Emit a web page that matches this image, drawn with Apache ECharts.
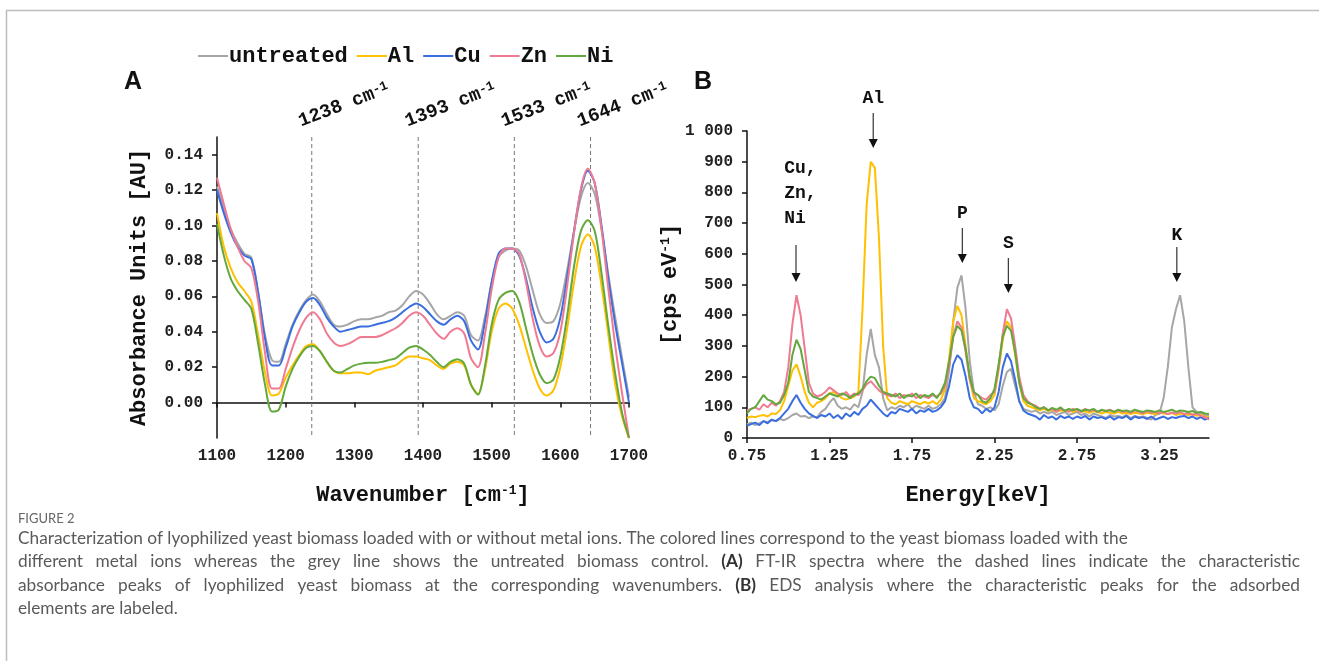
<!DOCTYPE html>
<html>
<head>
<meta charset="utf-8">
<title>Figure 2</title>
<script src="https://cdn.jsdelivr.net/npm/echarts@6/dist/echarts.min.js"></script>
<style>
html, body { margin: 0; padding: 0; background: #fff; }
#chart { width: 1319px; height: 661px; }
</style>
</head>
<body>
<div id="chart"></div>
<script>
const seriesNames = ['untreated', 'Al', 'Cu', 'Zn', 'Ni']
const seriesColors = ['#a6a6a6', '#ffc000', '#3a6ee0', '#f07a92', '#62a83c']

// (A) FT-IR spectra
const wavenumbers = [1100, 1110, 1120, 1130, 1140, 1150, 1160, 1170, 1180, 1190,
  1200, 1210, 1220, 1230, 1240, 1250, 1260, 1270, 1280, 1290,
  1300, 1310, 1320, 1330, 1340, 1350, 1360, 1370, 1380, 1390,
  1400, 1410, 1420, 1430, 1440, 1450, 1460, 1470, 1480, 1490,
  1500, 1510, 1520, 1530, 1540, 1550, 1560, 1570, 1580, 1590,
  1600, 1610, 1620, 1630, 1640, 1650, 1660, 1670, 1680, 1690, 1700]
const irUntreated = [0.122, 0.110, 0.098, 0.090, 0.084, 0.082, 0.062, 0.038, 0.024, 0.023,
  0.033, 0.044, 0.052, 0.058, 0.061, 0.057, 0.050, 0.044, 0.043, 0.044,
  0.046, 0.047, 0.047, 0.048, 0.049, 0.051, 0.052, 0.055, 0.060, 0.063,
  0.061, 0.056, 0.050, 0.047, 0.049, 0.051, 0.049, 0.038, 0.035, 0.048,
  0.068, 0.082, 0.086, 0.087, 0.086, 0.077, 0.063, 0.050, 0.045, 0.046,
  0.056, 0.075, 0.097, 0.116, 0.124, 0.118, 0.098, 0.072, 0.048, 0.025, 0.003]
const irAl = [0.107, 0.088, 0.076, 0.068, 0.063, 0.057, 0.038, 0.017, 0.004, 0.005,
  0.014, 0.021, 0.027, 0.032, 0.033, 0.029, 0.023, 0.018, 0.0165, 0.0165,
  0.017, 0.017, 0.016, 0.018, 0.019, 0.020, 0.021, 0.024, 0.026, 0.026,
  0.025, 0.024, 0.021, 0.019, 0.022, 0.023, 0.021, 0.010, 0.005, 0.018,
  0.040, 0.053, 0.056, 0.053, 0.044, 0.031, 0.018, 0.008, 0.004, 0.007,
  0.020, 0.042, 0.068, 0.088, 0.095, 0.088, 0.066, 0.038, 0.010, -0.008, -0.020]
const irCu = [0.120, 0.107, 0.096, 0.088, 0.083, 0.081, 0.062, 0.036, 0.021, 0.021,
  0.031, 0.043, 0.051, 0.057, 0.059, 0.055, 0.048, 0.043, 0.040, 0.041,
  0.042, 0.043, 0.043, 0.044, 0.045, 0.046, 0.048, 0.051, 0.054, 0.056,
  0.054, 0.050, 0.046, 0.044, 0.047, 0.049, 0.046, 0.035, 0.030, 0.045,
  0.068, 0.084, 0.087, 0.087, 0.083, 0.070, 0.053, 0.040, 0.034, 0.036,
  0.048, 0.071, 0.097, 0.120, 0.131, 0.124, 0.100, 0.070, 0.044, 0.022, 0.000]
const irZn = [0.127, 0.112, 0.098, 0.088, 0.080, 0.076, 0.057, 0.028, 0.008, 0.008,
  0.019, 0.031, 0.041, 0.048, 0.051, 0.047, 0.039, 0.034, 0.032, 0.033,
  0.035, 0.037, 0.037, 0.037, 0.038, 0.040, 0.042, 0.045, 0.049, 0.051,
  0.049, 0.044, 0.039, 0.036, 0.040, 0.042, 0.039, 0.025, 0.020, 0.038,
  0.064, 0.082, 0.087, 0.087, 0.084, 0.068, 0.047, 0.032, 0.026, 0.028,
  0.040, 0.066, 0.096, 0.121, 0.132, 0.124, 0.098, 0.064, 0.032, 0.005, -0.020]
const irNi = [0.101, 0.083, 0.070, 0.063, 0.058, 0.053, 0.033, 0.010, -0.005, -0.004,
  0.009, 0.019, 0.026, 0.031, 0.032, 0.029, 0.023, 0.018, 0.017, 0.019,
  0.021, 0.022, 0.0225, 0.0225, 0.023, 0.024, 0.025, 0.028, 0.031, 0.032,
  0.030, 0.027, 0.023, 0.020, 0.023, 0.0245, 0.022, 0.010, 0.0045, 0.020,
  0.044, 0.058, 0.062, 0.063, 0.057, 0.042, 0.027, 0.016, 0.011, 0.013,
  0.026, 0.049, 0.077, 0.097, 0.103, 0.097, 0.073, 0.043, 0.016, -0.006, -0.020]
const irPeaks = [1238, 1393, 1533, 1644]
const irTicks = [0, 0.02, 0.04, 0.06, 0.08, 0.10, 0.12, 0.14]

// (B) EDS spectra, sampled from 0.75 keV every 0.025 keV
const energyStart = 0.75
const energyStep = 0.025
const edsUntreated = [45, 50, 42, 48, 55, 52, 58, 55, 62, 58,
  65, 75, 80, 70, 72, 65, 70, 68, 85, 95,
  115, 130, 105, 95, 100, 92, 110, 100, 150, 270,
  355, 270, 230, 130, 90, 100, 95, 105, 100, 110,
  95, 105, 100, 95, 105, 95, 100, 110, 130, 220,
  380, 490, 530, 420, 250, 150, 110, 105, 95, 100,
  90, 110, 170, 215, 225, 170, 120, 95, 90, 85,
  90, 80, 85, 80, 85, 75, 80, 85, 75, 80,
  85, 75, 80, 70, 80, 75, 70, 65, 75, 70,
  72, 68, 75, 65, 72, 68, 70, 65, 60, 75,
  80, 130, 230, 360, 420, 465, 380, 230, 100, 85,
  80, 75, 72]
const edsAl = [65, 70, 68, 72, 75, 70, 80, 78, 90, 120,
  170, 220, 240, 200, 150, 115, 100, 115, 120, 130,
  145, 150, 140, 130, 125, 130, 135, 150, 420, 760,
  900, 880, 650, 300, 130, 115, 110, 120, 115, 110,
  120, 115, 110, 118, 112, 120, 110, 125, 160, 260,
  380, 430, 400, 300, 190, 130, 120, 115, 110, 120,
  140, 220, 320, 380, 360, 270, 180, 120, 105, 100,
  95, 90, 95, 88, 92, 85, 90, 88, 92, 85,
  90, 85, 88, 82, 88, 85, 80, 85, 82, 80,
  85, 80, 82, 78, 82, 80, 78, 82, 80, 78,
  82, 80, 78, 82, 75, 80, 78, 75, 78, 72,
  75, 70, 68]
const edsCu = [40, 45, 50, 42, 55, 48, 60, 55, 65, 80,
  95, 120, 140, 115, 95, 80, 72, 65, 75, 70,
  80, 65, 75, 62, 80, 70, 85, 75, 95, 105,
  125, 110, 95, 80, 70, 85, 80, 95, 90, 85,
  95, 80, 90, 85, 95, 85, 90, 100, 120, 170,
  240, 270, 255, 200, 130, 100, 95, 80, 95, 85,
  100, 150, 230, 275, 250, 190, 120, 90, 80, 75,
  70, 60, 75, 65, 70, 60, 72, 65, 70, 62,
  70, 65, 72, 60, 70, 65, 68, 62, 70, 60,
  68, 65, 72, 60, 70, 65, 68, 62, 70, 60,
  65, 70, 62, 68, 65, 70, 72, 65, 70, 62,
  68, 60, 65]
const edsZn = [90, 95, 100, 92, 110, 100, 115, 105, 120, 150,
  230, 370, 465, 400, 290, 180, 145, 135, 140, 150,
  165, 155, 145, 140, 150, 135, 145, 140, 155, 175,
  185, 170, 155, 145, 140, 135, 145, 130, 140, 135,
  145, 130, 140, 135, 130, 140, 135, 145, 170, 230,
  330, 380, 360, 280, 190, 145, 140, 130, 125, 140,
  150, 230, 340, 420, 390, 300, 200, 140, 120, 110,
  105, 95, 100, 90, 95, 85, 95, 90, 85, 95,
  90, 85, 95, 88, 92, 85, 90, 88, 92, 85,
  90, 85, 88, 82, 90, 85, 80, 88, 82, 85,
  80, 85, 78, 82, 80, 85, 78, 82, 75, 80,
  72, 68, 60]
const edsNi = [80, 95, 100, 120, 140, 125, 120, 110, 115, 140,
  180, 270, 320, 290, 220, 150, 135, 130, 125, 135,
  145, 140, 135, 145, 140, 130, 140, 145, 160, 185,
  200, 195, 170, 150, 145, 140, 135, 145, 130, 140,
  135, 145, 130, 140, 135, 145, 130, 150, 180, 250,
  330, 365, 350, 290, 200, 150, 140, 120, 115, 130,
  160, 240, 330, 365, 350, 280, 180, 130, 115, 110,
  100, 95, 100, 90, 98, 92, 100, 88, 95, 90,
  95, 88, 92, 90, 95, 85, 92, 88, 90, 85,
  92, 88, 90, 85, 92, 88, 85, 90, 88, 85,
  90, 85, 88, 92, 85, 90, 88, 85, 88, 82,
  85, 80, 78]
const edsTicks = [0.75, 1.25, 1.75, 2.25, 2.75, 3.25]

// element labels with arrows (B)
const edsPeakText = ['Cu,\nZn,\nNi', 'Al', 'P', 'S', 'K']
const edsPeakX = [1.047, 1.515, 2.055, 2.334, 3.355]
const edsLabelX = [0.975, 1.515, 2.055, 2.334, 3.355]
const edsLabelY = [795, 1107, 730, 635, 661]
const edsArrowTop = [629, 1059, 684, 586, 622]
const edsArrowTip = [508, 945, 570, 472, 508]

const captionLines = [
  'Characterization of lyophilized yeast biomass loaded with or without metal ions. The colored lines correspond to the yeast biomass loaded with the',
  'different metal ions whereas the grey line shows the untreated biomass control. (A) FT-IR spectra where the dashed lines indicate the characteristic',
  'absorbance peaks of lyophilized yeast biomass at the corresponding wavenumbers. (B) EDS analysis where the characteristic peaks for the adsorbed',
  'elements are labeled.'
]
const captionJustify = [false, true, true, false]

const mono = '"Liberation Mono", "Courier New", monospace'
const sans = '"Liberation Sans", Arial, sans-serif'
const capFont = 'Lato, "Noto Sans", sans-serif'

const irData = [irUntreated, irAl, irCu, irZn, irNi]
const edsData = [edsUntreated, edsAl, edsCu, edsZn, edsNi]

const chart = echarts.init(document.getElementById('chart'))

const axisLineStyle = { lineStyle: { color: '#111', width: 1.5 } }
const tickStyle = { show: true, length: 5, lineStyle: { color: '#111', width: 1.5 } }
const tickLabel = { fontFamily: mono, fontWeight: 'bold', fontSize: 16, color: '#222' }
const nameStyle = {
  fontFamily: mono, fontWeight: 'bold', fontSize: 22, color: '#111',
  rich: {
    sup: { fontFamily: mono, fontWeight: 'bold', fontSize: 13, color: '#111', verticalAlign: 'top' }
  }
}

const series = []
irData.forEach((vals, k) => {
  series.push({
    name: seriesNames[k],
    type: 'line',
    xAxisIndex: 0,
    yAxisIndex: 0,
    data: vals.map((v, i) => [wavenumbers[i], v]),
    smooth: 0.3,
    showSymbol: false,
    lineStyle: { width: 2, color: seriesColors[k] },
    itemStyle: { color: seriesColors[k] }
  })
})
edsData.forEach((vals, k) => {
  series.push({
    name: seriesNames[k],
    type: 'line',
    xAxisIndex: 1,
    yAxisIndex: 1,
    data: vals.map((v, i) => [energyStart + i * energyStep, v]),
    showSymbol: false,
    lineStyle: { width: 2, color: seriesColors[k] },
    itemStyle: { color: seriesColors[k] }
  })
})

// dashed peak lines + rotated labels (A)
series.push({
  name: 'irPeaks',
  type: 'custom',
  xAxisIndex: 0,
  yAxisIndex: 0,
  silent: true,
  data: irPeaks.map(w => [w, 0.15]),
  renderItem: (params, api) => {
    const x = api.value(0)
    const top = api.coord([x, 0.15])
    const bot = api.coord([x, -0.02])
    return {
      type: 'group',
      children: [
        {
          type: 'line',
          shape: { x1: top[0], y1: top[1], x2: bot[0], y2: bot[1] },
          style: { stroke: '#777', lineWidth: 1, lineDash: [4, 3] }
        },
        {
          type: 'text',
          x: top[0] - 9,
          y: top[1] - 6,
          rotation: 21 * Math.PI / 180,
          style: {
            text: x + ' cm{sup|-1}',
            fontFamily: mono,
            fontWeight: 'bold',
            fontSize: 19,
            fill: '#111',
            align: 'left',
            verticalAlign: 'bottom',
            rich: {
              sup: { fontFamily: mono, fontWeight: 'bold', fontSize: 13, fill: '#111', verticalAlign: 'top' }
            }
          }
        }
      ]
    }
  }
})

// element arrows (B)
series.push({
  name: 'edsPeaks',
  type: 'custom',
  xAxisIndex: 1,
  yAxisIndex: 1,
  silent: true,
  data: edsPeakX.map((x, i) => [x, edsArrowTip[i]]),
  renderItem: (params, api) => {
    const i = params.dataIndex
    const top = api.coord([edsPeakX[i], edsArrowTop[i]])
    const tip = api.coord([edsPeakX[i], edsArrowTip[i]])
    const lab = api.coord([edsLabelX[i], edsLabelY[i]])
    const multi = edsPeakText[i].indexOf('\n') >= 0
    return {
      type: 'group',
      children: [
        {
          type: 'line',
          shape: { x1: top[0], y1: top[1], x2: tip[0], y2: tip[1] - 6 },
          style: { stroke: '#333', lineWidth: 1.2 }
        },
        {
          type: 'polygon',
          shape: { points: [[tip[0] - 4.5, tip[1] - 9], [tip[0] + 4.5, tip[1] - 9], [tip[0], tip[1]]] },
          style: { fill: '#111' }
        },
        {
          type: 'text',
          x: lab[0],
          y: lab[1],
          style: {
            text: edsPeakText[i],
            fontFamily: mono,
            fontWeight: 'bold',
            fontSize: 18,
            lineHeight: 25,
            fill: '#111',
            align: multi ? 'left' : 'center',
            verticalAlign: 'middle'
          }
        }
      ]
    }
  }
})

const graphic = [
  {
    type: 'rect',
    silent: true,
    shape: { x: 6.5, y: 10.5, width: 1400, height: 700 },
    style: { fill: 'none', stroke: '#bdbdbd', lineWidth: 1.5 }
  },
  {
    type: 'text', left: 124, top: 70,
    style: { text: 'A', font: 'bold 25px ' + sans, fill: '#111' }
  },
  {
    type: 'text', left: 694, top: 70,
    style: { text: 'B', font: 'bold 25px ' + sans, fill: '#111' }
  },
  {
    type: 'text', left: 18, top: 512,
    style: { text: 'FIGURE 2', font: '13px ' + capFont, fill: '#666' }
  }
]

// caption, justified like the journal layout
const capNormal = '17.3px ' + capFont
const capBold = 'bold 17.3px ' + capFont
const capLeft = 18
const capRight = 1300
const measure = document.createElement('canvas').getContext('2d')
const wordWidth = (w, font) => { measure.font = font; return measure.measureText(w).width }
captionLines.forEach((line, li) => {
  const top = 530 + li * 23.3
  const words = line.split(' ')
  const fonts = words.map(w => (/^\([AB]\)$/.test(w) ? capBold : capNormal))
  const widths = words.map((w, i) => wordWidth(w, fonts[i]))
  const total = widths.reduce((a, b) => a + b, 0)
  const gap = captionJustify[li]
    ? (capRight - capLeft - total) / (words.length - 1)
    : wordWidth(' ', capNormal)
  let x = capLeft
  words.forEach((w, i) => {
    graphic.push({
      type: 'text',
      x: x,
      y: top,
      style: { text: w, font: fonts[i], fill: fonts[i] === capBold ? '#333' : '#5a5a5a', verticalAlign: 'top' }
    })
    x += widths[i] + gap
  })
})

chart.setOption({
  animation: false,
  backgroundColor: '#fff',
  legend: {
    data: seriesNames,
    left: 193,
    top: 40,
    icon: 'rect',
    itemWidth: 30,
    itemHeight: 2,
    itemGap: 9,
    selectedMode: false,
    textStyle: { fontFamily: mono, fontWeight: 'bold', fontSize: 22, color: '#111', padding: [0, 0, 0, -4] }
  },
  grid: [
    { left: 217, right: 690, top: 137, bottom: 223 },
    { left: 747, right: 110, top: 131, bottom: 223 }
  ],
  xAxis: [
    {
      gridIndex: 0,
      type: 'value',
      min: 1100,
      max: 1700,
      interval: 100,
      name: 'Wavenumber [cm{sup|-1}]',
      nameLocation: 'middle',
      nameGap: 46,
      nameTextStyle: nameStyle,
      axisLine: axisLineStyle,
      axisTick: tickStyle,
      axisLabel: { ...tickLabel, margin: 10, formatter: v => String(v) },
      splitLine: { show: false }
    },
    {
      gridIndex: 1,
      type: 'value',
      min: 0.75,
      max: 3.55,
      name: 'Energy[keV]',
      nameLocation: 'middle',
      nameGap: 46,
      nameTextStyle: nameStyle,
      axisLine: axisLineStyle,
      axisTick: { ...tickStyle, customValues: edsTicks },
      axisLabel: { ...tickLabel, margin: 10, customValues: edsTicks, formatter: v => v.toFixed(2) },
      splitLine: { show: false }
    }
  ],
  yAxis: [
    {
      gridIndex: 0,
      type: 'value',
      min: -0.02,
      max: 0.15,
      name: 'Absorbance Units [AU]',
      nameLocation: 'middle',
      nameGap: 67,
      nameTextStyle: nameStyle,
      axisLine: { show: true, ...axisLineStyle },
      axisTick: { ...tickStyle, customValues: irTicks },
      axisLabel: { ...tickLabel, margin: 14, customValues: irTicks, formatter: v => v.toFixed(2) },
      splitLine: { show: false }
    },
    {
      gridIndex: 1,
      type: 'value',
      min: 0,
      max: 1000,
      interval: 100,
      name: '[cps eV{sup|-1}]',
      nameLocation: 'middle',
      nameGap: 64,
      nameTextStyle: nameStyle,
      axisLine: { show: true, ...axisLineStyle },
      axisTick: tickStyle,
      axisLabel: { ...tickLabel, margin: 14, formatter: v => (v === 1000 ? '1 000' : String(v)) },
      splitLine: { show: false }
    }
  ],
  graphic: graphic,
  series: series
})
</script>
</body>
</html>
